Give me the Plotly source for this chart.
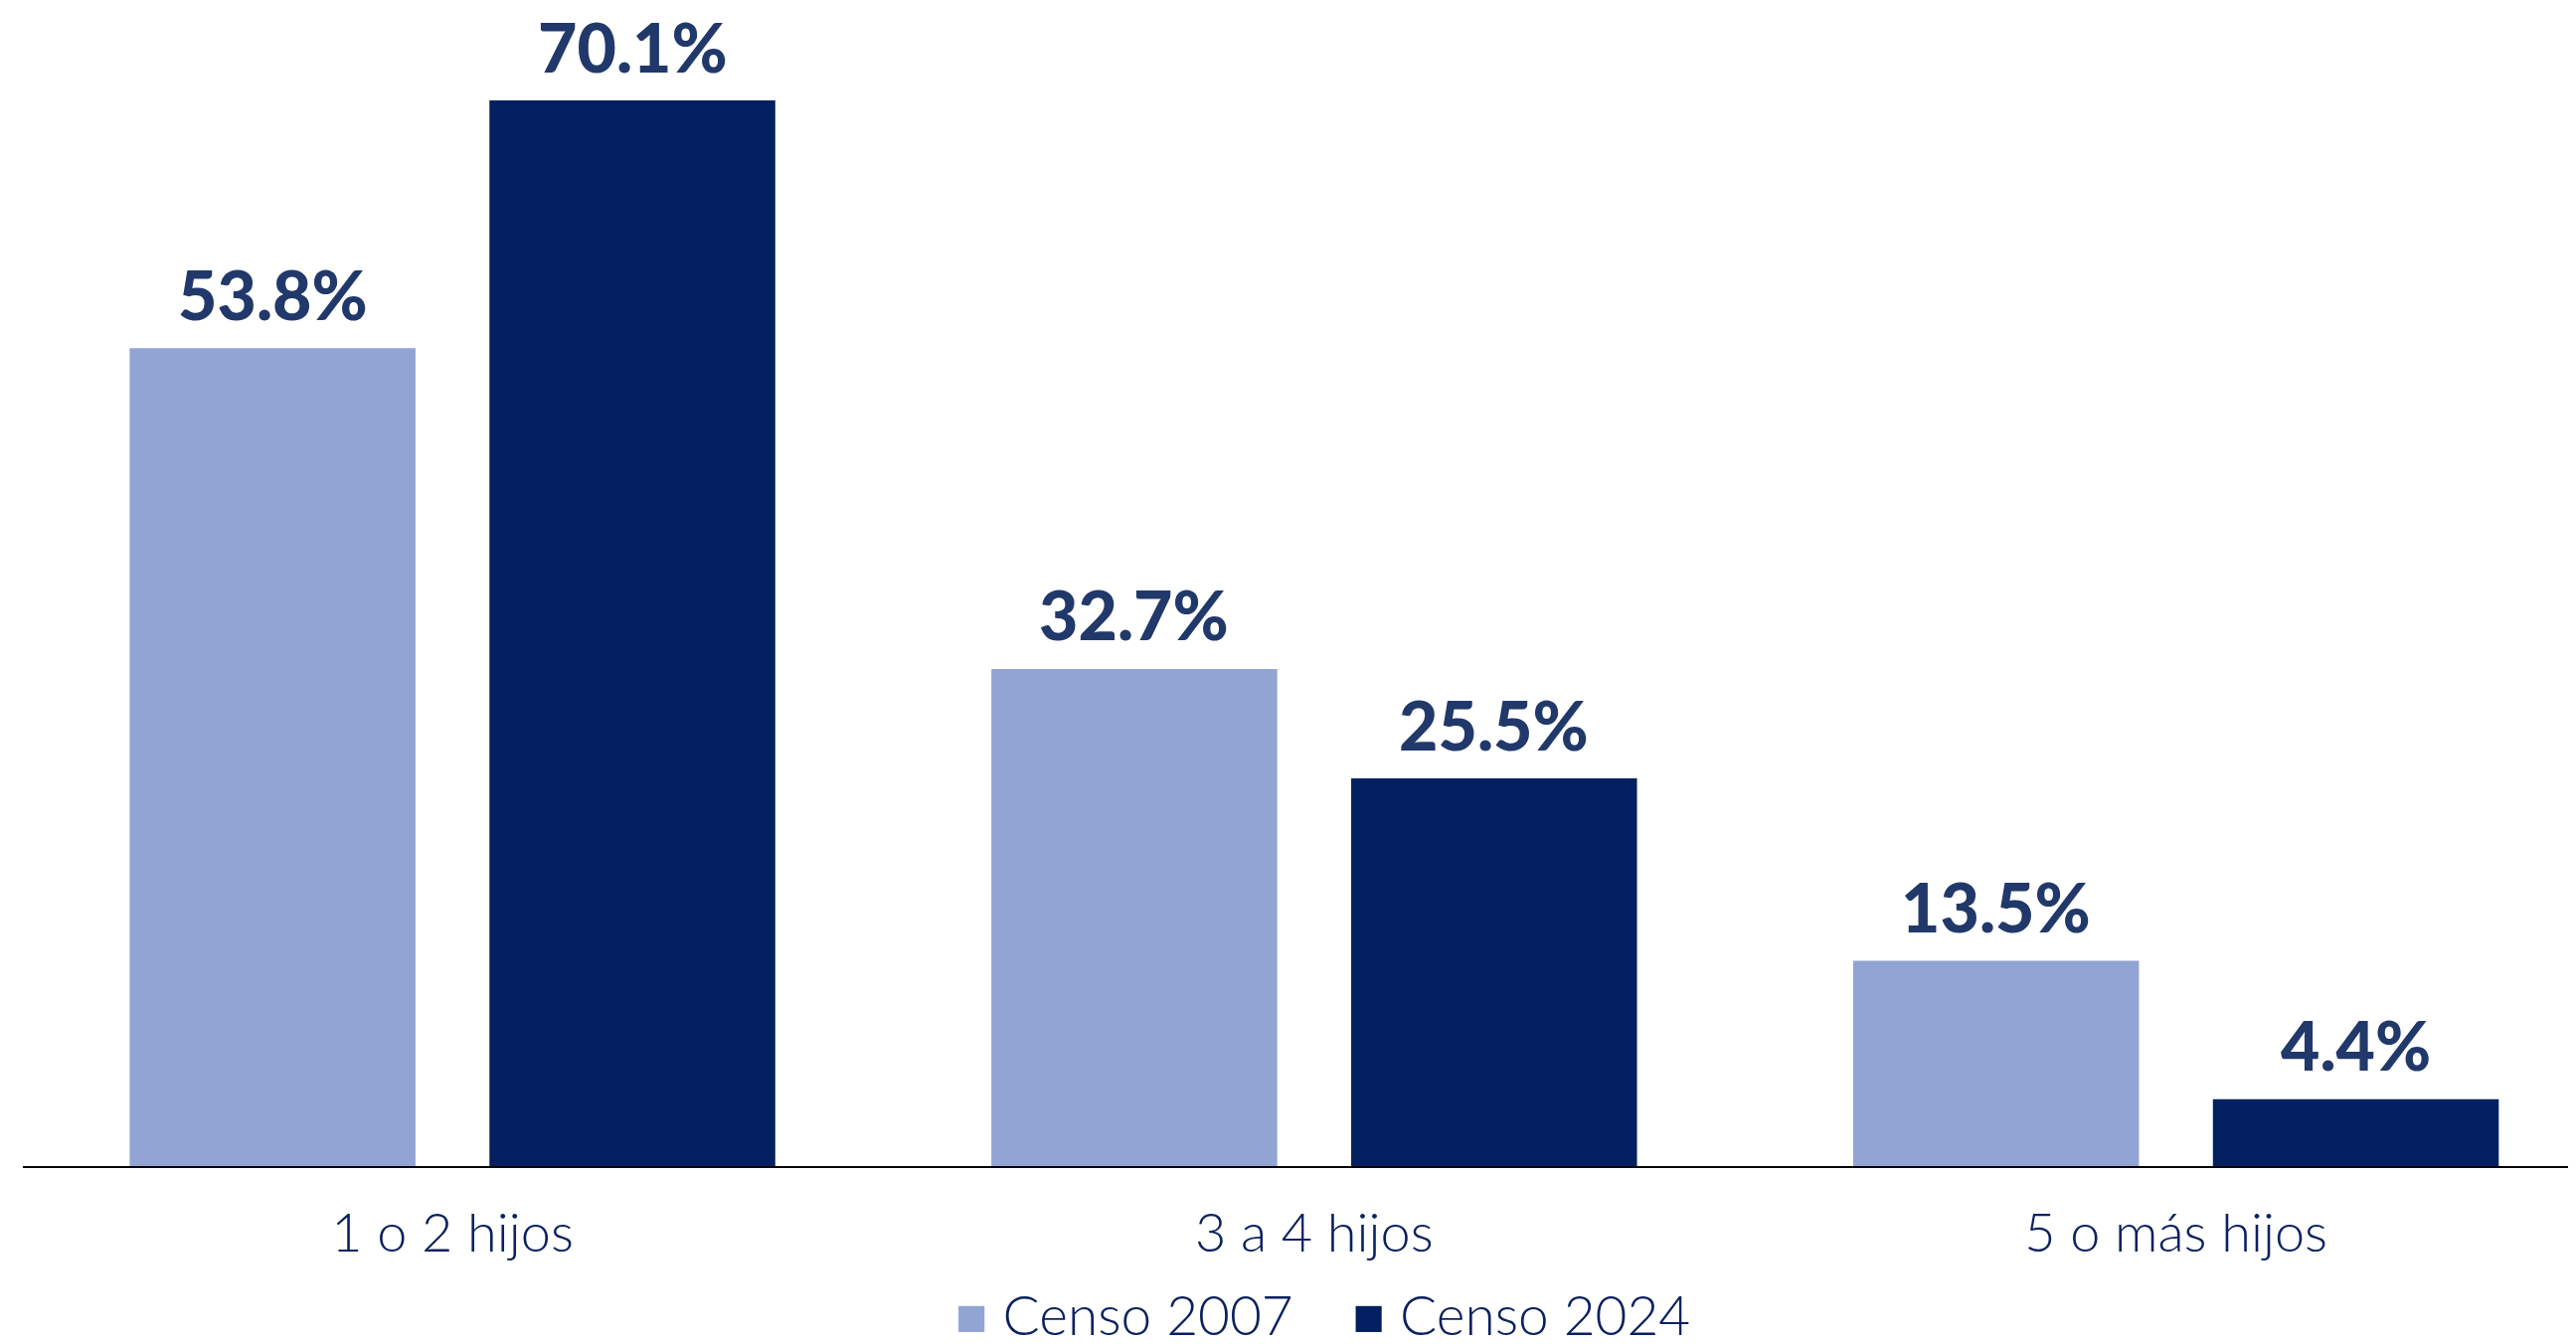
import plotly.graph_objects as go

categories = ["1 o 2 hijos", "3 a 4 hijos", "5 o más hijos"]
censo_2007 = [53.8, 32.7, 13.5]
censo_2024 = [70.1, 25.5, 4.4]
series_names = ["Censo 2007", "Censo 2024"]
colors = ["#91a4d4", "#022060"]

BARGAP = 0.165
BARGROUPGAP = 0.2055
TEXT_DARK = "#0a2160"

fig = go.Figure()
for name, vals, col in zip(series_names, [censo_2007, censo_2024], colors):
    fig.add_trace(go.Bar(
        x=categories, y=vals, name=name, showlegend=False,
        marker=dict(color=col, line=dict(width=0)),
    ))

# value labels above bars
slot = (1 - BARGAP) / 2
for k, vals in enumerate([censo_2007, censo_2024]):
    off = (k - 0.5) * slot
    for i, v in enumerate(vals):
        fig.add_annotation(
            x=i + off, y=v, xref="x", yref="y",
            text=f"{v:.1f}%", showarrow=False,
            yanchor="middle", yshift=55,
            font=dict(family="Lato", size=68, color="#21386a", weight=900),
        )

# legend (drawn as text so the square keys match the reference size)
sq = "<span style='font-family:DejaVu Sans;font-size:54px;color:{c}'>\u25a0</span>"
legend_text = ("\u00a0" * 4).join(
    sq.format(c=c) + "\u00a0" + n for n, c in zip(series_names, colors)
)
fig.add_annotation(
    x=0.5107, y=-0.131, xref="paper", yref="paper",
    xanchor="center", yanchor="middle", showarrow=False,
    text=legend_text,
    font=dict(family="Lato", size=55, color=TEXT_DARK, weight=300),
)

fig.update_layout(
    width=2575, height=1336,
    margin=dict(l=15, r=0, t=20, b=171),
    barmode="group", bargap=BARGAP, bargroupgap=BARGROUPGAP,
    plot_bgcolor="white", paper_bgcolor="white",
    showlegend=False,
    xaxis=dict(
        range=[-0.4985, 2.455],
        showline=True, linecolor="#000000", linewidth=2,
        ticks="", ticklabelstandoff=19,
        tickfont=dict(family="Lato", size=54, color=TEXT_DARK, weight=300),
        showgrid=False, automargin=False,
    ),
    yaxis=dict(
        range=[0, 74.88], visible=False, showgrid=False, zeroline=False,
    ),
)

fig.write_html("out.html")
